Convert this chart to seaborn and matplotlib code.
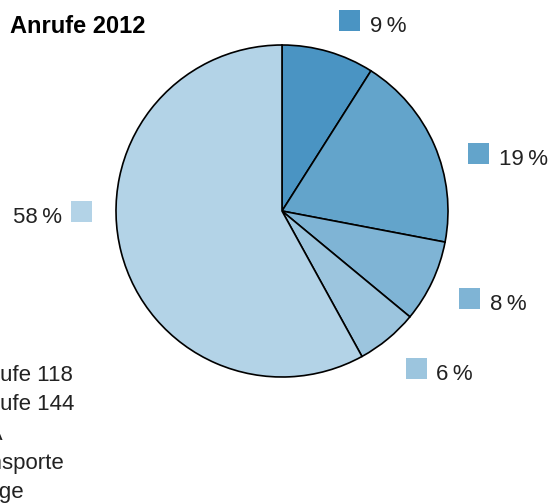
import matplotlib
matplotlib.use("Agg")
import matplotlib.pyplot as plt
from matplotlib.patches import Rectangle
import seaborn as sns

# Calls in 2012 by category (percent)
categories = ["Notrufe 118", "Notrufe 144", "KSA", "Transporte", "Übrige"]
shares = [9, 19, 8, 6, 58]
slice_colors = ["#4a94c3", "#63a4cb", "#7fb4d5", "#9cc5de", "#b3d3e7"]
title = "Anrufe 2012"

sns.set_theme(style="white")
plt.rcParams["font.family"] = ["Liberation Sans", "DejaVu Sans"]
palette = sns.color_palette(slice_colors)

W, H = 551, 504
fig = plt.figure(figsize=(W / 100, H / 100), dpi=100)
ax = fig.add_axes([0, 0, 1, 1])

# pie geometry in pixels (centre measured from top-left)
R = 166.0
cx, cy = 282.0, 211.0

ax.pie(shares, colors=palette, startangle=90, counterclock=False, radius=1,
       wedgeprops=dict(edgecolor="black", linewidth=1.2))
ax.set_xlim(-cx / R, (W - cx) / R)
ax.set_ylim(-(H - cy) / R, cy / R)
ax.set_aspect("equal")
ax.axis("off")


def to_data(px, py):
    return (px - cx) / R, (cy - py) / R


# value labels: square swatch centre (px) and side of the text
label_pos = [(349.5, 20.5, "right"), (478.5, 153.5, "right"),
             (469.5, 298.5, "right"), (416.0, 368.5, "right"),
             (81.5, 211.0, "left")]
box = 21.0
fs = 16
text_color = "#222222"
for val, col, (bx, by, side) in zip(shares, palette, label_pos):
    x0, y0 = to_data(bx - box / 2, by + box / 2)
    ax.add_patch(Rectangle((x0, y0), box / R, box / R, facecolor=col,
                           edgecolor="none", clip_on=False))
    tx = bx + box / 2 + 10 if side == "right" else bx - box / 2 - 9
    ha = "left" if side == "right" else "right"
    x, y = to_data(tx, by + box / 2 + 1)
    ax.text(x, y, f"{val}\u2009%", ha=ha, va="baseline", fontsize=fs,
            color=text_color)

fig.text(10 / W, 1 - 33 / H, title, fontsize=17, fontweight="bold",
         ha="left", va="baseline", color="black")

# category list, partly beyond the left edge
for i, name in enumerate(categories):
    fig.text(-42 / W, 1 - (381 + 29.3 * i) / H, name, fontsize=fs,
             ha="left", va="baseline", color=text_color)

fig.savefig("out.png", dpi=100)
